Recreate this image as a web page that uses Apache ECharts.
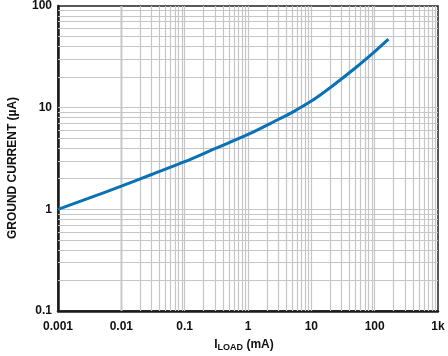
<!DOCTYPE html>
<html>
<head>
<meta charset="utf-8">
<script src="https://cdn.jsdelivr.net/npm/echarts@6/dist/echarts.min.js"></script>
<style>
html,body{margin:0;padding:0;background:#fff;}
#c{width:448px;height:356px;}
</style>
</head>
<body>
<div id="c"></div>
<script>
// Data
const loadCurrent = [0.001, 0.003, 0.01, 0.03, 0.1, 0.3, 1, 3, 5, 10, 20, 50, 100, 165];
const groundCurrent = [1.0, 1.28, 1.69, 2.2, 2.94, 3.95, 5.45, 7.65, 9.0, 11.6, 15.8, 24.7, 35.6, 47.2];
const xTickLabels = ['0.001', '0.01', '0.1', '1', '10', '100', '1k'];
const yTickLabels = ['0.1', '1', '10', '100'];
const xDecades = [-3, -2, -1, 0, 1, 2];
const yDecades = [-1, 0, 1];

const gridLinesX = [];
xDecades.forEach(d => { for (let m = 1; m <= 9; m++) { if (d === -3 && m === 1) continue; gridLinesX.push({ xAxis: m * Math.pow(10, d) }); } });
const gridLinesY = [];
yDecades.forEach(d => { for (let m = 1; m <= 9; m++) { if (d === -1 && m === 1) continue; gridLinesY.push({ yAxis: m * Math.pow(10, d) }); } });

const chart = echarts.init(document.getElementById('c'), null, { renderer: 'canvas' });
const labelFont = { fontFamily: '"Liberation Sans", Arial, sans-serif', fontWeight: 'bold', fontSize: 12, color: '#111' };

chart.setOption({
  animation: false,
  backgroundColor: '#fff',
  grid: { left: 58, right: 10, top: 6, bottom: 45, show: true, borderColor: '#222', borderWidth: 1.5, backgroundColor: 'transparent' },
  xAxis: {
    type: 'log', logBase: 10, min: 0.001, max: 1000, splitNumber: 6,
    axisLine: { show: true, lineStyle: { color: '#1a1a1a', width: 2.5 } },
    axisTick: { show: false },
    splitLine: { show: false },
    axisLabel: Object.assign({ margin: 10, showMinLabel: true, showMaxLabel: true,
      formatter: v => xTickLabels[Math.round(Math.log10(v)) + 3] }, labelFont)
  },
  yAxis: {
    type: 'log', logBase: 10, min: 0.1, max: 100, splitNumber: 3,
    axisLine: { show: true, lineStyle: { color: '#1a1a1a', width: 2.5 } },
    axisTick: { show: false },
    splitLine: { show: false },
    axisLabel: Object.assign({ margin: 6, showMinLabel: true, showMaxLabel: true,
      formatter: v => yTickLabels[Math.round(Math.log10(v)) + 1] }, labelFont)
  },
  graphic: [
    { type: 'text', x: 13, y: 168, rotation: Math.PI / 2,
      style: { text: 'GROUND CURRENT (µA)', font: 'bold 12px "Liberation Sans", Arial, sans-serif', fill: '#111', textAlign: 'center', textVerticalAlign: 'middle' } },
    { type: 'text', x: 244, y: 345,
      style: { text: '{a|I}{b|LOAD}{a| (mA)}', textAlign: 'center', textVerticalAlign: 'middle',
        rich: {
          a: { font: 'bold 12px "Liberation Sans", Arial, sans-serif', fill: '#111' },
          b: { font: 'bold 9px "Liberation Sans", Arial, sans-serif', fill: '#111', padding: [5, 0, 0, 0] }
        } } }
  ],
  series: [
    {
      type: 'line', data: [[1, 1]], symbol: 'none', lineStyle: { opacity: 0 }, silent: true, z: 1,
      markLine: {
        silent: true, symbol: ['none', 'none'], label: { show: false },
        lineStyle: { color: '#c6c6c8', width: 1.2, type: 'solid' },
        data: gridLinesX.concat(gridLinesY), animation: false
      }
    },
    {
      type: 'line', data: loadCurrent.map((x, i) => [x, groundCurrent[i]]),
      smooth: 0.3, symbol: 'none', z: 5,
      lineStyle: { color: '#0a72b4', width: 3 }
    }
  ]
});
</script>
</body>
</html>
